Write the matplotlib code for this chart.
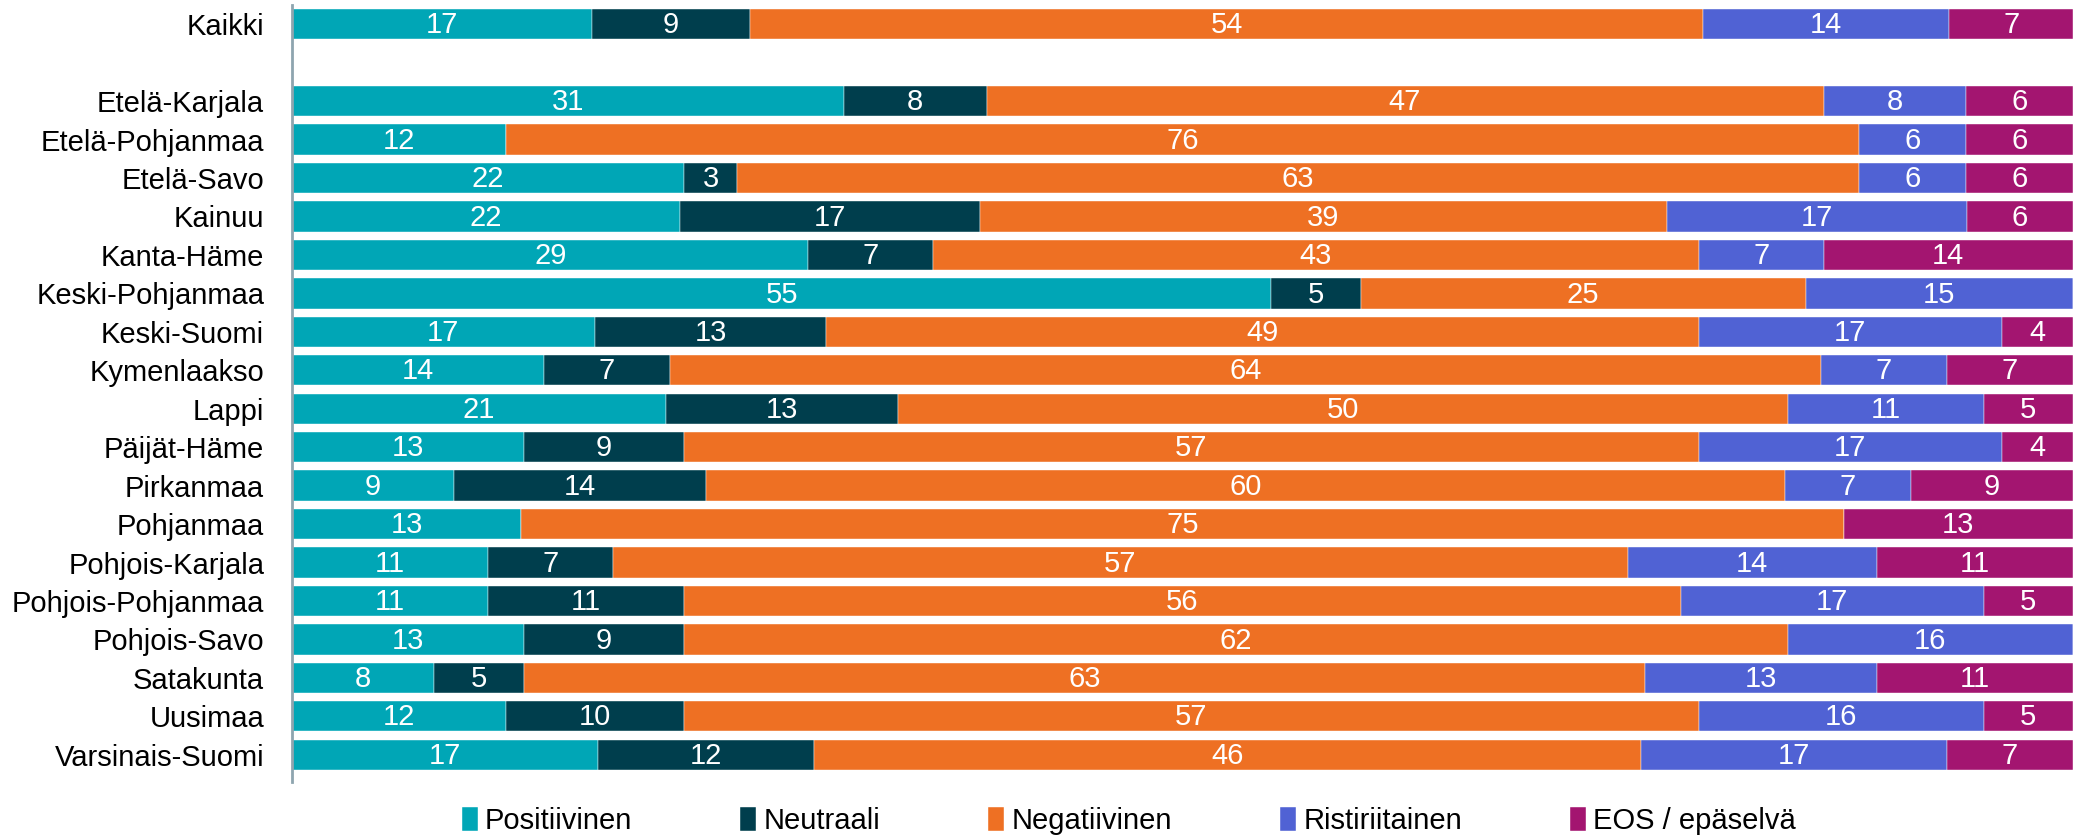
import matplotlib
matplotlib.use("Agg")
import matplotlib.pyplot as plt
import numpy as np

plt.rcParams['font.family'] = ['Liberation Sans', 'DejaVu Sans']

regions = ["Kaikki", "", "Etelä-Karjala", "Etelä-Pohjanmaa", "Etelä-Savo", "Kainuu",
           "Kanta-Häme", "Keski-Pohjanmaa", "Keski-Suomi", "Kymenlaakso", "Lappi",
           "Päijät-Häme", "Pirkanmaa", "Pohjanmaa", "Pohjois-Karjala",
           "Pohjois-Pohjanmaa", "Pohjois-Savo", "Satakunta", "Uusimaa", "Varsinais-Suomi"]

series = ["Positiivinen", "Neutraali", "Negatiivinen", "Ristiriitainen", "EOS / epäselvä"]
colors = ["#00A6B6", "#003E4D", "#EE7023", "#5062D4", "#A31570"]

# percentages per row (0 = no segment), empty row is the gap after Kaikki
positiivinen   = [17, 0, 31, 12, 22, 22, 29, 55, 17, 14, 21, 13,  9, 13, 11, 11, 13,  8, 12, 17]
neutraali      = [ 9, 0,  8,  0,  3, 17,  7,  5, 13,  7, 13,  9, 14,  0,  7, 11,  9,  5, 10, 12]
negatiivinen   = [54, 0, 47, 76, 63, 39, 43, 25, 49, 64, 50, 57, 60, 75, 57, 56, 62, 63, 57, 46]
ristiriitainen = [14, 0,  8,  6,  6, 17,  7, 15, 17,  7, 11, 17,  7,  0, 14, 17, 16, 13, 16, 17]
eos            = [ 7, 0,  6,  6,  6,  6, 14,  0,  4,  7,  5,  4,  9, 13, 11,  5,  0, 11,  5,  7]

data = np.array([positiivinen, neutraali, negatiivinen, ristiriitainen, eos], dtype=float)
sums = data.sum(axis=0)
sums[sums == 0] = 1
widths = data / sums * 100

fig = plt.figure(figsize=(20.77, 8.36), dpi=100)
ax = fig.add_axes([0.1406, 0.065, 0.8574, 0.929])

y = np.arange(len(regions))
left = np.zeros(len(regions))
for i in range(len(series)):
    ax.barh(y, widths[i], left=left, height=0.79, color=colors[i], label=series[i],
            edgecolor='white', linewidth=0.3)
    for j in range(len(regions)):
        if data[i, j] > 0:
            ax.text(left[j] + widths[i, j] / 2, y[j] + 0.03, str(int(data[i, j])),
                    ha='center', va='center', color='white', fontsize=21)
    left += widths[i]

ax.set_xlim(0, 100)
ax.set_ylim(19.7, -0.5)
ax.set_yticks(y)
ax.set_yticklabels(regions, fontsize=21)
ax.tick_params(axis='y', length=0, pad=20)
ax.set_xticks([])
for s in ['top', 'right', 'bottom']:
    ax.spines[s].set_visible(False)
ax.spines['left'].set_color('#8EA5AF')
ax.spines['left'].set_linewidth(2)

ax.legend(loc='center', bbox_to_anchor=(0.5435, 0.018), bbox_transform=fig.transFigure,
          ncol=5, frameon=False, fontsize=21, handlelength=0.55, handleheight=0.9,
          handletextpad=0.25, columnspacing=3.7)

fig.savefig("out.png", dpi=100)
